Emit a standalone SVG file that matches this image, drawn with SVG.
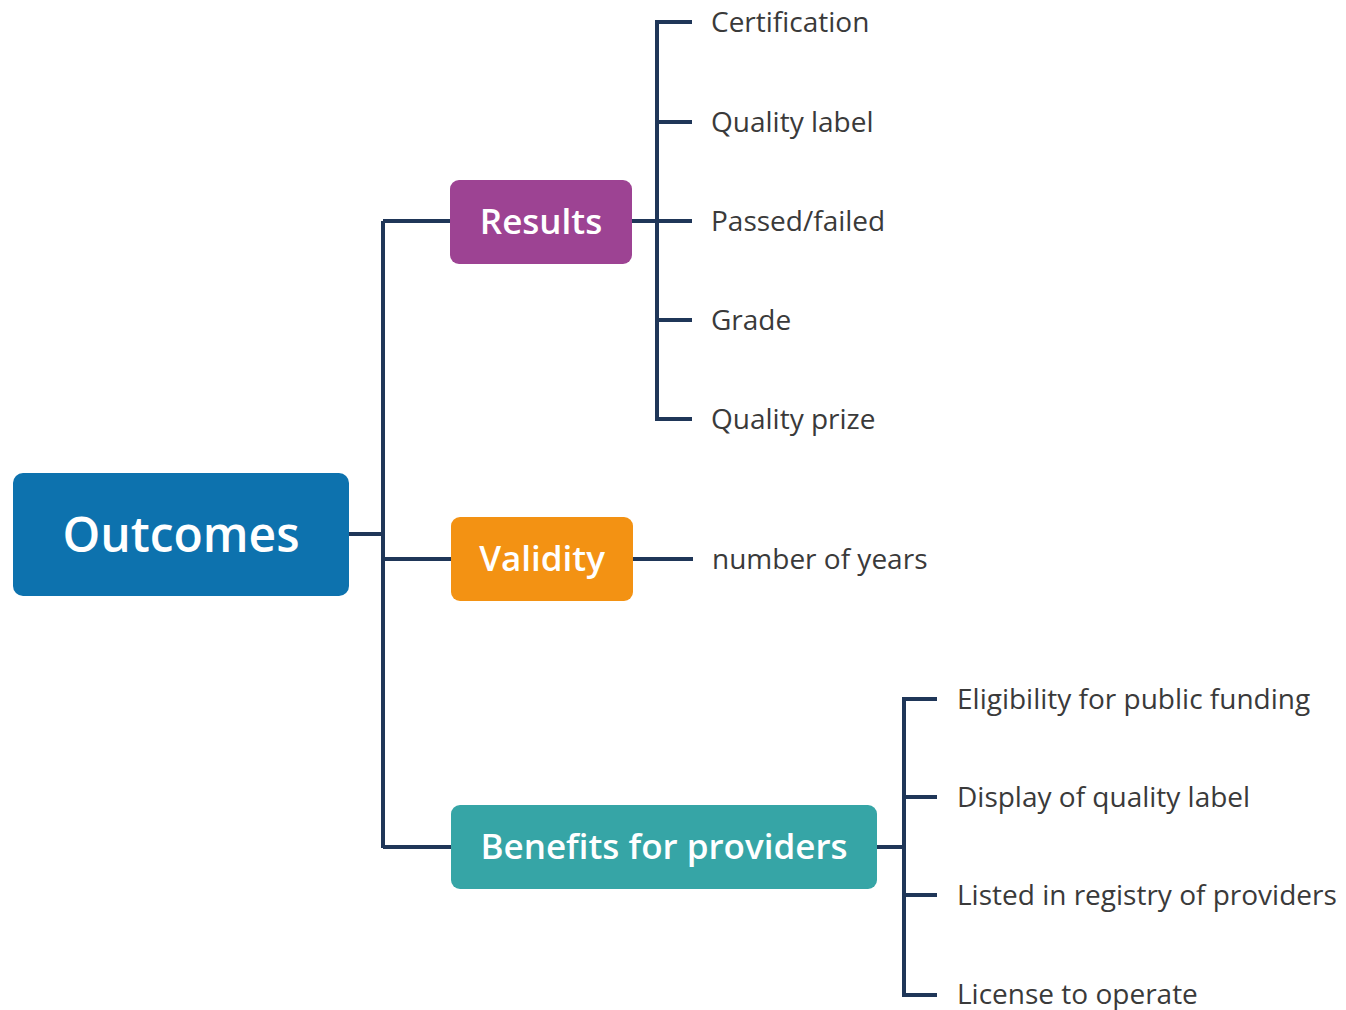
<svg xmlns="http://www.w3.org/2000/svg" width="1346" height="1010" viewBox="0 0 1346 1010">
  <style>
    .wire { fill: none; stroke: #1f3658; stroke-width: 4; stroke-linecap: butt; stroke-linejoin: miter; }
    .box-label { font-family: "Open Sans", "Liberation Sans", sans-serif; font-weight: 600; fill: #ffffff; text-anchor: middle; }
    .leaf { font-family: "Open Sans", "Liberation Sans", sans-serif; font-size: 28px; fill: #3a3a3a; }
  </style>
  <rect width="1346" height="1010" fill="#ffffff"/>

  <!-- tree connectors -->
  <g id="connectors">
    <!-- root to trunk -->
    <path class="wire" d="M349 534 H383"/>
    <path class="wire" d="M383 221 V848"/>
    <path class="wire" d="M383 221 H451"/>
    <path class="wire" d="M383 559 H451"/>
    <path class="wire" d="M383 847 H451"/>
    <!-- Results branch -->
    <path class="wire" d="M632 221 H657"/>
    <path class="wire" d="M692 22 H657 V419 H692"/>
    <path class="wire" d="M657 122 H692"/>
    <path class="wire" d="M657 221 H692"/>
    <path class="wire" d="M657 320 H692"/>
    <!-- Validity branch -->
    <path class="wire" d="M633 559 H693"/>
    <!-- Benefits branch -->
    <path class="wire" d="M877 847 H904"/>
    <path class="wire" d="M937 699 H904 V995 H937"/>
    <path class="wire" d="M904 797 H937"/>
    <path class="wire" d="M904 895 H937"/>
  </g>

  <g id="node-outcomes">
    <rect x="13" y="473" width="336" height="123" rx="10" fill="#0d72ae"/>
    <text class="box-label" x="181" y="552" font-size="48">Outcomes</text>
  </g>

  <g id="node-results">
    <rect x="450" y="180" width="182" height="84" rx="9" fill="#9d4393"/>
    <text class="box-label" x="541" y="234" font-size="35">Results</text>
  </g>

  <g id="node-validity">
    <rect x="451" y="517" width="182" height="84" rx="9" fill="#f39213"/>
    <text class="box-label" x="542" y="571" font-size="35">Validity</text>
  </g>

  <g id="node-benefits">
    <rect x="451" y="805" width="426" height="84" rx="9" fill="#36a5a6"/>
    <text class="box-label" x="664" y="859" font-size="35">Benefits for providers</text>
  </g>

  <g id="leaf-certification"><text class="leaf" x="711" y="32">Certification</text></g>
  <g id="leaf-quality-label"><text class="leaf" x="711" y="132">Quality label</text></g>
  <g id="leaf-passed-failed"><text class="leaf" x="711" y="231">Passed/failed</text></g>
  <g id="leaf-grade"><text class="leaf" x="711" y="330">Grade</text></g>
  <g id="leaf-quality-prize"><text class="leaf" x="711" y="429">Quality prize</text></g>

  <g id="leaf-years"><text class="leaf" x="712" y="569">number of years</text></g>

  <g id="leaf-funding"><text class="leaf" x="957" y="709">Eligibility for public funding</text></g>
  <g id="leaf-display"><text class="leaf" x="957" y="807">Display of quality label</text></g>
  <g id="leaf-registry"><text class="leaf" x="957" y="905">Listed in registry of providers</text></g>
  <g id="leaf-license"><text class="leaf" x="957" y="1004">License to operate</text></g>
</svg>
